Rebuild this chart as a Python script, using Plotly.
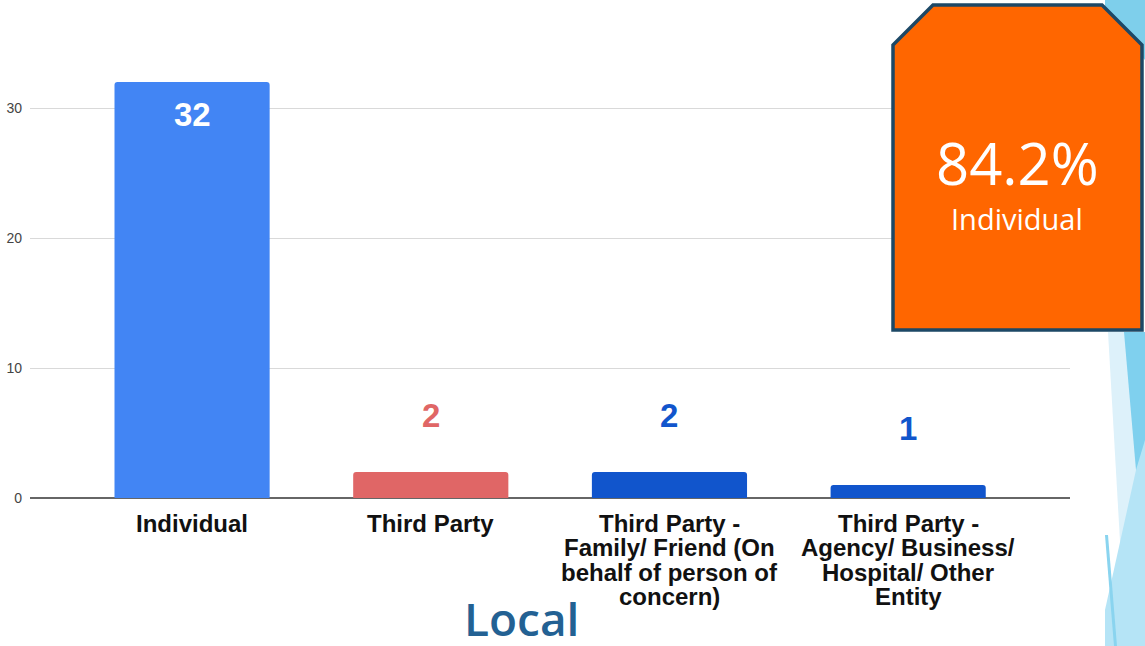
import plotly.graph_objects as go

# ---- data ----
categories = ["Individual", "Third Party", "Third Party - Family/ Friend", "Third Party - Agency/ Business"]
values = [32, 2, 2, 1]
tick_lines = [
    ["Individual"],
    ["Third Party"],
    ["Third Party -", "Family/ Friend (On", "behalf of person of", "concern)"],
    ["Third Party -", "Agency/ Business/", "Hospital/ Other", "Entity"],
]
bar_colors = ["#4285F4", "#E06666", "#1155CC", "#1155CC"]
label_colors = ["#FFFFFF", "#E06666", "#1155CC", "#1155CC"]
y_ticks = [0, 10, 20, 30]
callout_value = "84.2%"
callout_label = "Individual"
title_text = "Local"

W, H = 1145, 646
ML, MR, MT, MB = 30, 75, 30, 148
PW, PH = W - ML - MR, H - MT - MB


def px(x):
    return (x - ML) / PW


def py(y):
    return (H - MB - y) / PH


def path(points):
    return "M " + " L ".join(f"{px(a):.5f},{py(b):.5f}" for a, b in points) + " Z"


fig = go.Figure()
fig.add_trace(go.Bar(
    x=categories, y=values,
    marker=dict(color=bar_colors, line=dict(width=0)),
    width=0.65, hoverinfo="skip",
))

annotations = []
# value labels
for i, (c, v) in enumerate(zip(categories, values)):
    inside = i == 0
    annotations.append(dict(
        x=c, y=v, xref="x", yref="y", text=f"<b>{v}</b>", showarrow=False,
        xanchor="center", yanchor="middle", yshift=-32 if inside else 57,
        font=dict(family="Liberation Sans, Arial", size=33, color=label_colors[i]),
    ))
# multiline category labels
for c, lines in zip(categories, tick_lines):
    for j, line in enumerate(lines):
        annotations.append(dict(
            x=c, y=0, xref="x", yref="y", text=f"<b>{line}</b>", showarrow=False,
            xanchor="center", yanchor="middle", yshift=-(25 + 24.6 * j),
            font=dict(family="Liberation Sans, Arial", size=24, color="#111111"),
        ))

# callout text
annotations.append(dict(x=px(1017), y=py(162), xref="paper", yref="paper", text=callout_value,
                        showarrow=False, xanchor="center", yanchor="middle",
                        font=dict(family="Open Sans", size=58, color="white")))
annotations.append(dict(x=px(1017), y=py(218), xref="paper", yref="paper", text=callout_label,
                        showarrow=False, xanchor="center", yanchor="middle",
                        font=dict(family="Open Sans", size=29, color="white")))
# bottom title
annotations.append(dict(x=px(521), y=py(651), xref="paper", yref="paper", text=title_text,
                        showarrow=False, xanchor="center", yanchor="bottom",
                        font=dict(family="Open Sans", size=46, color="#236193", weight=600)))

shapes = [
    # decorative light-blue shapes on the right
    dict(type="path", path=path([(1105, 0), (1145, 0), (1145, 60), (1105, 20)]),
         xref="paper", yref="paper", fillcolor="#7ECFEB", line=dict(width=0), layer="below"),
    dict(type="path", path=path([(1108, 332), (1128, 332), (1145, 470), (1145, 646), (1126, 646)]),
         xref="paper", yref="paper", fillcolor="#DDF1FA", line=dict(width=0), layer="below"),
    dict(type="path", path=path([(1124, 332), (1145, 332), (1145, 560), (1136, 470)]),
         xref="paper", yref="paper", fillcolor="#7FD0EE", line=dict(width=0), layer="below"),
    dict(type="path", path=path([(1136, 470), (1145, 440), (1145, 646), (1105, 646), (1105, 610)]),
         xref="paper", yref="paper", fillcolor="#B5E4F6", line=dict(width=0), layer="below"),
    dict(type="path", path=path([(1105, 535), (1108, 535), (1117, 646), (1114, 646)]),
         xref="paper", yref="paper", fillcolor="#8AD4EF", line=dict(width=0), layer="below"),
    # orange callout box
    dict(type="path", path=path([(893, 45), (933, 5), (1102, 5), (1142, 45), (1142, 330), (893, 330)]),
         xref="paper", yref="paper", fillcolor="#FF6600", line=dict(color="#1D4866", width=3.5),
         layer="above"),
]

fig.update_layout(
    width=W, height=H,
    margin=dict(l=ML, r=MR, t=MT, b=MB, pad=0, autoexpand=False),
    paper_bgcolor="white", plot_bgcolor="white",
    showlegend=False,
    bargap=0.35,
    barcornerradius=3,
    annotations=annotations,
    shapes=shapes,
    xaxis=dict(range=[-0.679, 3.678], showticklabels=False, showgrid=False, zeroline=False,
               showline=False, ticks="", fixedrange=True, automargin=False),
    yaxis=dict(range=[0, 36], tickvals=y_ticks, showgrid=True, gridcolor="#D9D9D9", gridwidth=1,
               zeroline=True, zerolinecolor="#666666", zerolinewidth=1.5, showline=False,
               ticks="", ticklabelstandoff=7, automargin=False,
               tickfont=dict(family="Liberation Sans, Arial", size=14, color="#444444"),
               fixedrange=True),
)

fig.write_html(
    "out.html",
    config={"displayModeBar": False},
    post_script="document.body.style.margin='0';document.body.style.overflow='hidden';",
)
